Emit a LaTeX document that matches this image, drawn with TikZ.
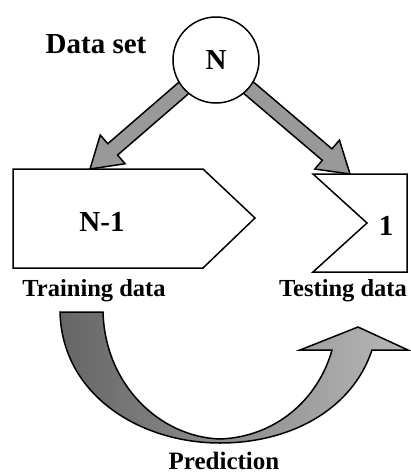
\documentclass[tikz,border=0pt]{standalone}
\usepackage{fontspec}
\setmainfont{Liberation Serif}
\usetikzlibrary{positioning,calc,backgrounds}

% thick grey arrow from #1 to the tip #2
\newcommand{\fatarrow}[2]{%
\coordinate (h) at ($(#2)!30pt!(#1)$);
\filldraw[fat] ($(#1)!7.5pt!90:(#2)$) -- ($(h)!7.5pt!90:(#2)$) -- ($(h)!19pt!90:(#2)$) -- (#2)
 -- ($(h)!19pt!-90:(#2)$) -- ($(h)!7.5pt!-90:(#2)$) -- ($(#1)!7.5pt!-90:(#2)$) -- cycle;}

\begin{document}
\begin{tikzpicture}[x=1pt,y=-1pt,
lbl/.style={font=\bfseries\fontsize{24.5}{24.5}\selectfont,inner sep=0pt},
big/.style={font=\bfseries\fontsize{29}{29}\selectfont,inner sep=0pt},
fat/.style={draw=black,line width=1.5pt,fill=black!40},
databox/.style={draw,line width=1.5pt}
]
\useasboundingbox (0,0) rectangle (411,475);

\node[circle,draw,line width=1.5pt,fill=white,minimum size=86pt,big] (ds) at (216,60) {N};
\node[big] (dslbl) at (96,44) {Data set};

% training and testing parts
\draw[databox] (13,169) -- (203,169) -- (255,218) -- (203,268) -- (13,268) -- cycle;
\draw[databox] (313,174) -- (407,174) -- (407,272) -- (313,272) -- (367,223) -- cycle;
\node[big] (n1) at (102,222) {N-1};
\node[big] (one) at (386,226) {1};

\node[lbl] (trlbl) at (94,291) {Training data};
\node[lbl] (telbl) at (343,291) {Testing data};
\node[font=\bfseries\fontsize{25}{25}\selectfont,inner sep=0pt] (pred) at (224,461) {Prediction};

\coordinate (tl) at (90,169);
\coordinate (tr) at (350,174);
\begin{scope}[on background layer]
\fatarrow{ds.center}{tl}
\fatarrow{ds.center}{tr}
\end{scope}

% prediction arrow
\shadedraw[line width=1.5pt,left color=black!60,right color=black!28]
 (60,312) -- (103,312) .. controls (105,385) and (160,437) .. (220,439)
 .. controls (275,437) and (318,400) .. (332,350) -- (300,350) -- (358,327) -- (408,350) -- (372,350)
 .. controls (352,410) and (290,443) .. (220,443) .. controls (140,443) and (62,395) .. (60,312) -- cycle;

\end{tikzpicture}
\end{document}
